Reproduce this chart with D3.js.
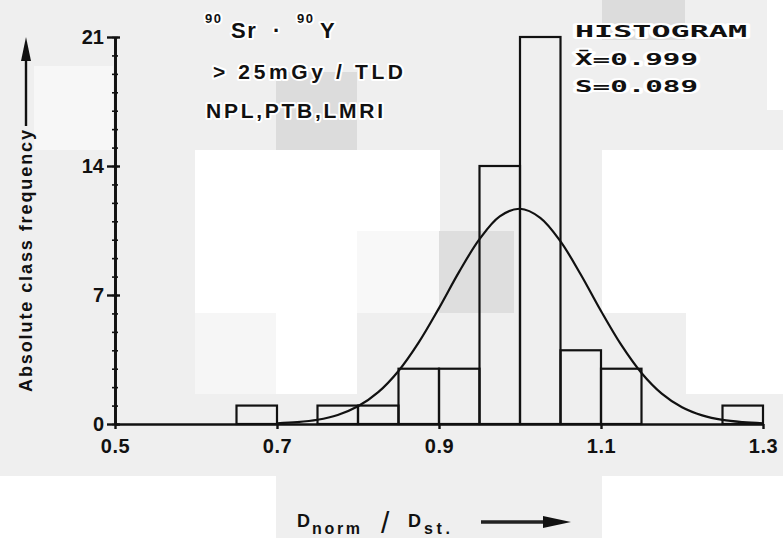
<!DOCTYPE html>
<html>
    <head>
        <title>Histogram 90Sr-90Y</title>
        <meta charset="UTF-8">
        <script src="https://cdnjs.cloudflare.com/ajax/libs/d3/7.9.0/d3.min.js"></script>
        <style>
            html, body {
                margin: 0;
                padding: 0;
                background: #efefef;
                font-family: 'Liberation Sans', Arial, sans-serif;
            }
            .chart text {
                fill: #111;
            }
            .halo {
                paint-order: stroke;
                stroke: #fff;
                stroke-width: 4px;
                stroke-linejoin: round;
            }
            .axis path, .axis line {
                stroke: #111;
                stroke-width: 2.4px;
            }
            .minor line {
                stroke-width: 1.6px;
            }
        </style>
    </head>
    <body>
        <div class="chart"></div>
        <script>
            // histogram classes (lower edge of each 0.05 wide class) and counts
            var binStart = [0.65, 0.75, 0.80, 0.85, 0.90, 0.95, 1.00, 1.05, 1.10, 1.25];
            var binCount = [1, 1, 1, 3, 3, 14, 21, 4, 3, 1];
            var binWidth = 0.05;

            // fitted normal curve
            var curveX = [0.70, 0.725, 0.75, 0.775, 0.80, 0.825, 0.85, 0.875, 0.90, 0.925, 0.95, 0.975, 1.00,
                          1.025, 1.05, 1.075, 1.10, 1.125, 1.15, 1.175, 1.20, 1.225, 1.25, 1.275, 1.30];
            var curveY = [0.04, 0.1, 0.23, 0.49, 0.96, 1.73, 2.88, 4.43, 6.29, 8.27, 10.03, 11.27, 11.68,
                          11.19, 9.91, 8.11, 6.13, 4.29, 2.77, 1.65, 0.91, 0.47, 0.22, 0.1, 0.04];

            var xTicks = [0.5, 0.7, 0.9, 1.1, 1.3];
            var yTicks = [0, 7, 14, 21];
            var legendLines = ['HISTOGRAM', 'X\u0304=0.999', 'S=0.089'];
            var infoLines = ['> 25mGy / TLD', 'NPL,PTB,LMRI'];

            var w = 783;
            var h = 538;

            var svg = d3.select('.chart').append('svg')
                    .attr('width', w)
                    .attr('height', h)
                    .style('display', 'block');

            // scan background patches (white / darker squares of the scan)
            var patches = [
                [195, 150, 245, 81, '#ffffff'],
                [195, 231, 162, 82, '#ffffff'],
                [357, 231, 82, 82, '#f8f8f8'],
                [439, 231, 75, 82, '#dedede'],
                [195, 313, 81, 81, '#f6f6f6'],
                [276, 313, 81, 81, '#ffffff'],
                [602, 150, 181, 163, '#ffffff'],
                [686, 313, 97, 81, '#ffffff'],
                [0, 476, 276, 62, '#ffffff'],
                [602, 476, 181, 62, '#ffffff'],
                [767, 0, 16, 110, '#ffffff'],
                [276, 72, 81, 78, '#dcdcdc'],
                [602, 0, 83, 40, '#dcdcdc'],
                [34, 66, 79, 84, '#f7f7f7']
            ];
            svg.append('g').selectAll('rect').data(patches).enter().append('rect')
                .attr('x', d => d[0]).attr('y', d => d[1])
                .attr('width', d => d[2]).attr('height', d => d[3])
                .attr('fill', d => d[4]);

            var x = d3.scaleLinear()
                    .domain([0.5, 1.3])
                    .range([115, 763]);

            var y = d3.scaleLinear()
                    .domain([0, 21])
                    .range([424, 37]);

            // bars
            var bars = binStart.map((s, i) => ({x0: s, x1: s + binWidth, n: binCount[i]}));
            svg.append('g').selectAll('rect').data(bars).enter().append('rect')
                .attr('x', d => x(d.x0))
                .attr('y', d => y(d.n))
                .attr('width', d => x(d.x1) - x(d.x0))
                .attr('height', d => y(0) - y(d.n))
                .attr('fill', 'none')
                .attr('stroke', '#111')
                .attr('stroke-width', 2.2);

            // fitted curve
            var pts = curveX.map((v, i) => ({x: v, y: curveY[i]}));
            var line = d3.line()
                    .curve(d3.curveCatmullRom)
                    .x(d => x(d.x))
                    .y(d => y(d.y));
            svg.append('path')
                .datum(pts)
                .attr('fill', 'none')
                .attr('stroke', '#111')
                .attr('stroke-width', 2.2)
                .attr('d', line);

            // y axis: minor ticks on both sides, major ticks with labels
            svg.append('g').attr('class', 'axis minor')
                .attr('transform', 'translate(115,0)')
                .call(d3.axisRight(y).tickValues(d3.range(0, 22)).tickSize(3).tickSizeOuter(0).tickFormat(''));
            svg.append('g').attr('class', 'axis minor')
                .attr('transform', 'translate(115,0)')
                .call(d3.axisLeft(y).tickValues(d3.range(0, 22)).tickSize(3).tickSizeOuter(0).tickFormat(''));
            var yAxis = svg.append('g').attr('class', 'axis')
                .attr('transform', 'translate(115,0)')
                .call(d3.axisLeft(y).tickValues(yTicks).tickSize(8).tickSizeOuter(0).tickPadding(3));
            yAxis.selectAll('.tick')
                .append('line')
                .attr('x2', 5);
            yAxis.selectAll('text')
                .style('font-size', '20px')
                .style('font-weight', 700)
                .style('font-family', "'Liberation Sans', Arial, sans-serif")
                .attr('fill', '#111');

            // x axis
            var xAxis = svg.append('g').attr('class', 'axis')
                .attr('transform', 'translate(0,424)')
                .call(d3.axisBottom(x).tickValues(xTicks).tickSize(5).tickSizeOuter(0).tickPadding(10).tickFormat(d3.format('.1f')));
            xAxis.selectAll('text')
                .style('font-size', '20px')
                .style('font-weight', 700)
                .style('letter-spacing', '0.5px')
                .style('font-family', "'Liberation Sans', Arial, sans-serif")
                .attr('fill', '#111');

            // y title with arrow
            svg.append('text')
                .attr('transform', 'translate(32,392) rotate(-90)')
                .attr('textLength', 262)
                .attr('lengthAdjust', 'spacing')
                .style('font-size', '18px')
                .style('font-weight', 700)
                .text('Absolute class frequency');
            svg.append('line')
                .attr('x1', 26).attr('x2', 26)
                .attr('y1', 126).attr('y2', 55)
                .attr('stroke', '#111').attr('stroke-width', 2.4);
            svg.append('path')
                .attr('d', 'M26,37 L21,61 L31,61 Z')
                .attr('fill', '#111');

            // x title with arrow
            var xtParts = [
                ['D', 297, 527, 18, 0, 700],
                ['norm', 312, 534, 16, 48, 700],
                ['/', 381, 533, 30, 0, 400],
                ['D', 408, 527, 18, 0, 700],
                ['st.', 424, 534, 16, 26, 700]
            ];
            svg.append('g').selectAll('text').data(xtParts).enter().append('text')
                .attr('x', d => d[1]).attr('y', d => d[2])
                .attr('textLength', d => d[4] || null)
                .attr('lengthAdjust', 'spacing')
                .style('font-size', d => d[3] + 'px')
                .style('font-weight', d => d[5])
                .text(d => d[0]);
            svg.append('line')
                .attr('x1', 481).attr('x2', 548)
                .attr('y1', 522).attr('y2', 522)
                .attr('stroke', '#222').attr('stroke-width', 3.5);
            svg.append('path')
                .attr('d', 'M571,522 L543,516 L543,528 Z')
                .attr('fill', '#111');

            // nuclide annotation
            var nucParts = [
                ['90', 205, 23, 13],
                ['Sr', 231, 38, 22],
                ['\u00b7', 273, 38, 22],
                ['90', 297, 23, 13],
                ['Y', 320, 38, 22]
            ];
            svg.append('g').selectAll('text').data(nucParts).enter().append('text')
                .attr('class', 'halo')
                .attr('x', d => d[1]).attr('y', d => d[2])
                .style('font-size', d => d[3] + 'px')
                .style('letter-spacing', '1.5px')
                .style('font-weight', 700)
                .text(d => d[0]);

            svg.append('g').selectAll('text').data(infoLines).enter().append('text')
                .attr('class', 'halo')
                .attr('x', (d, i) => [213, 206][i])
                .attr('y', (d, i) => [79, 118][i])
                .attr('textLength', (d, i) => [190, 177][i])
                .attr('lengthAdjust', 'spacing')
                .style('font-size', '21px')
                .style('font-weight', 700)
                .text(d => d);

            // legend block
            svg.append('g').selectAll('text').data(legendLines).enter().append('text')
                .attr('class', 'halo')
                .attr('x', 575)
                .attr('y', (d, i) => [37, 65, 92][i])
                .attr('textLength', (d, i) => [172, 123, 123][i])
                .attr('lengthAdjust', 'spacingAndGlyphs')
                .style('font-family', "'DejaVu Sans Mono', monospace")
                .style('font-size', '15px')
                .style('font-weight', 700)
                .text(d => d);
        </script>
    </body>
</html>
